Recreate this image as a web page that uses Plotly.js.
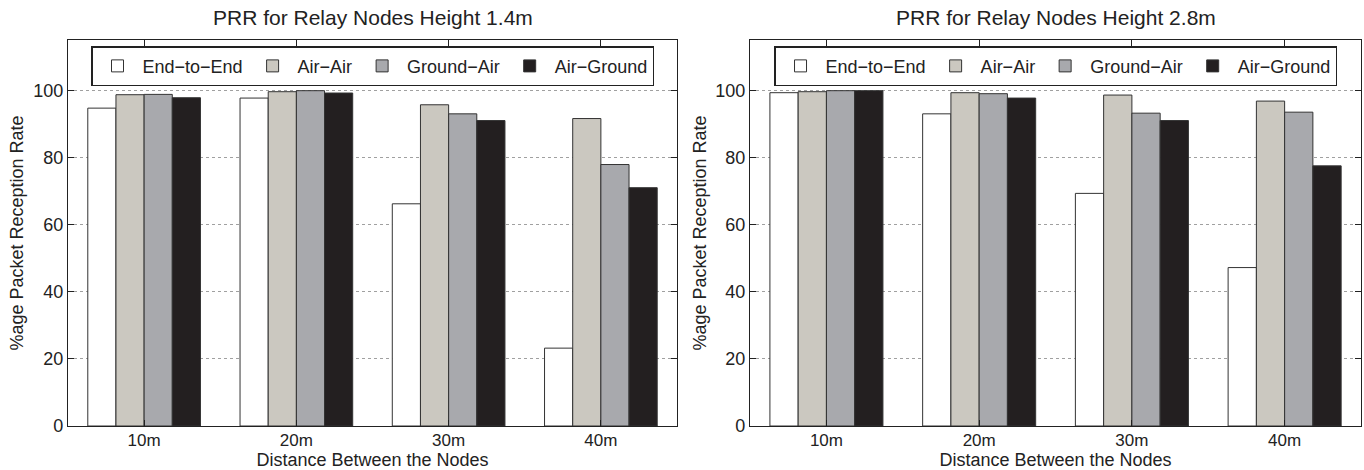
<!DOCTYPE html>
<html>
<head>
<meta charset="utf-8">
<script src="https://cdn.plot.ly/plotly-3.0.1.min.js"></script>
<style>html,body{margin:0;padding:0;background:#fff;}#chart{width:1364px;height:470px;}</style>
</head>
<body>
<div id="chart"></div>
<script>
// ---- data ----
const categories = ['10m', '20m', '30m', '40m'];
const seriesNames = ['End\u2212to\u2212End', 'Air\u2212Air', 'Ground\u2212Air', 'Air\u2212Ground'];
const seriesColors = ['#ffffff', '#cbc8c0', '#a8a9ad', '#231f20'];

// Relay node height 1.4m
const h14_endToEnd  = [94.7, 97.7, 66.2, 23.2];
const h14_airAir    = [98.7, 99.6, 95.7, 91.6];
const h14_groundAir = [98.8, 99.9, 93.0, 77.9];
const h14_airGround = [97.8, 99.2, 91.0, 71.0];

// Relay node height 2.8m
const h28_endToEnd  = [99.3, 93.0, 69.3, 47.2];
const h28_airAir    = [99.6, 99.3, 98.6, 96.8];
const h28_groundAir = [99.9, 99.0, 93.2, 93.5];
const h28_airGround = [99.9, 97.7, 91.0, 77.5];

const titles = ['PRR for Relay Nodes Height 1.4m', 'PRR for Relay Nodes Height 2.8m'];
const xTitle = 'Distance Between the Nodes';
const yTitle = '%age Packet Reception Rate';

// ---- build ----
const FONT = 'Liberation Sans, Arial, Helvetica, sans-serif';
const panels = [
  {vals: [h14_endToEnd, h14_airAir, h14_groundAir, h14_airGround], xa: 'x', ya: 'y', lg: 'legend'},
  {vals: [h28_endToEnd, h28_airAir, h28_groundAir, h28_airGround], xa: 'x2', ya: 'y2', lg: 'legend2'}
];
const traces = [];
panels.forEach(p => {
  p.vals.forEach((v, i) => {
    traces.push({
      type: 'bar', x: categories, y: v, name: seriesNames[i],
      xaxis: p.xa, yaxis: p.ya, legend: p.lg,
      marker: {color: seriesColors[i], line: {color: '#333333', width: 1}},
      hoverinfo: 'x+y+name'
    });
  });
});

const xDomL = [0, 0.471], xDomR = [0.5275, 1];
function xAxis(dom, anchor) {
  return {
    domain: dom, anchor: anchor, type: 'category', categoryorder: 'array', categoryarray: categories,
    range: [-0.5, 3.5], showline: true, linecolor: '#222', linewidth: 1.2, mirror: 'ticks',
    ticks: 'inside', ticklen: 6, tickcolor: '#222', showgrid: false, zeroline: false,
    ticklabelstandoff: -2,
    tickfont: {family: FONT, size: 17, color: '#222'},
    title: {text: xTitle, font: {family: FONT, size: 18, color: '#222'}, standoff: 0}
  };
}
function yAxis(anchor) {
  return {
    anchor: anchor, domain: [0, 1], range: [0, 115], tickvals: [0, 20, 40, 60, 80, 100],
    showline: true, linecolor: '#222', linewidth: 1.2, mirror: 'ticks',
    ticks: 'inside', ticklen: 6, tickcolor: '#222',
    showgrid: true, gridcolor: '#a0a0a0', griddash: 'dot', gridwidth: 1, zeroline: false,
    tickfont: {family: FONT, size: 18, color: '#222'},
    title: {text: yTitle, font: {family: FONT, size: 18, color: '#222'}, standoff: 4}
  };
}
function legendAt(xc) {
  return {
    x: xc, xanchor: 'center', y: 0.984, yanchor: 'top', orientation: 'h',
    bgcolor: '#ffffff', bordercolor: '#222', borderwidth: 1.5,
    font: {family: FONT, size: 18, color: '#222'}, itemwidth: 40, traceorder: 'normal'
  };
}
const cL = (xDomL[0] + xDomL[1]) / 2, cR = (xDomR[0] + xDomR[1]) / 2;
const layout = {
  width: 1364, height: 470,
  margin: {l: 68, r: 3, t: 40, b: 44},
  paper_bgcolor: '#fff', plot_bgcolor: '#fff',
  barmode: 'group', bargap: 0.26, bargroupgap: 0,
  showlegend: true,
  xaxis: xAxis(xDomL, 'y'), yaxis: yAxis('x'),
  xaxis2: xAxis(xDomR, 'y2'), yaxis2: yAxis('x2'),
  legend: legendAt(cL), legend2: legendAt(cR),
  annotations: [
    {text: titles[0], xref: 'paper', yref: 'paper', x: cL, y: 1, xanchor: 'center', yanchor: 'bottom', yshift: 9, showarrow: false, font: {family: FONT, size: 21, color: '#222'}},
    {text: titles[1], xref: 'paper', yref: 'paper', x: cR, y: 1, xanchor: 'center', yanchor: 'bottom', yshift: 9, showarrow: false, font: {family: FONT, size: 21, color: '#222'}}
  ]
};
Plotly.newPlot('chart', traces, layout, {displayModeBar: false, staticPlot: true});
</script>
</body>
</html>
